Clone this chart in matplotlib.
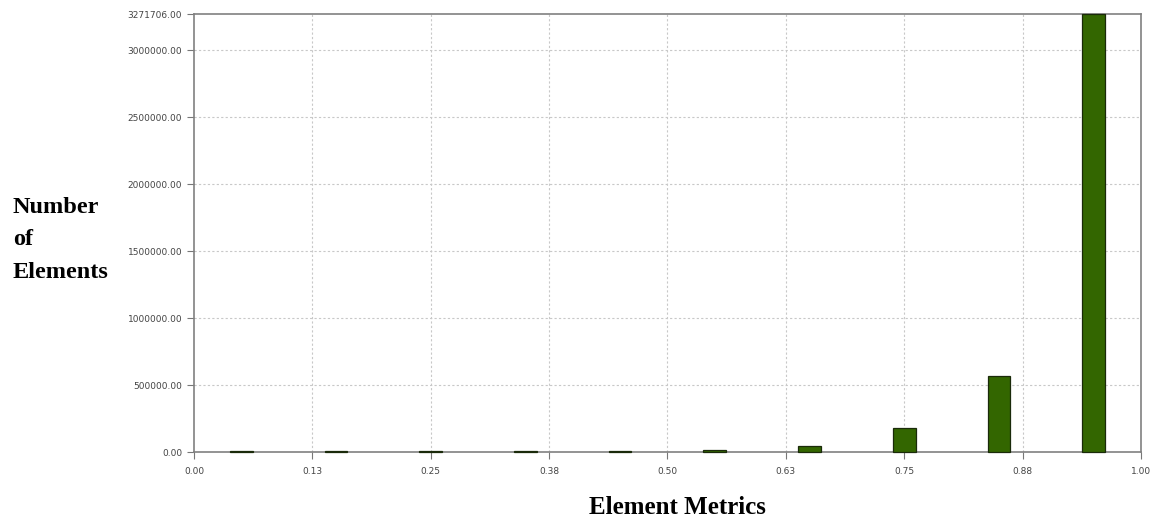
import numpy as np
import matplotlib
matplotlib.use("Agg")
import matplotlib.pyplot as plt

# histogram of element quality metric (10 bins of 0.1)
bin_centers = [0.05, 0.15, 0.25, 0.35, 0.45, 0.55, 0.65, 0.75, 0.85, 0.95]
counts = [6000, 6000, 6000, 6000, 6000, 12000, 45000, 178000, 570000, 3271706]

x_ticks = [0.0, 0.125, 0.25, 0.375, 0.5, 0.625, 0.75, 0.875, 1.0]
x_tick_labels = ["0.00", "0.13", "0.25", "0.38", "0.50", "0.63", "0.75", "0.88", "1.00"]
y_ticks = [0, 500000, 1000000, 1500000, 2000000, 2500000, 3000000, 3271706]

fig = plt.figure(figsize=(11.6, 5.17), dpi=100)
ax = fig.add_axes([0.1672, 0.1257, 0.8164, 0.8472])

ax.bar(bin_centers, counts, width=0.024, color="#336600", edgecolor="#1a2a0a",
       linewidth=0.9, zorder=3, clip_on=False)

ax.set_xlim(0, 1)
ax.set_ylim(0, max(counts))
ax.set_xticks(x_ticks)
ax.set_xticklabels(x_tick_labels)
ax.set_yticks(y_ticks)
ax.set_yticklabels([f"{v:.2f}" for v in y_ticks])
ax.tick_params(axis="both", labelsize=6.5, colors="#777777", labelcolor="#444444",
               length=5, width=0.8)
ax.tick_params(axis="x", pad=6)

# dotted grid, skipping the top edge and the axes edges
for v in y_ticks[1:-1]:
    ax.axhline(v, color="#c8c8c8", linestyle=(0, (2, 2)), linewidth=0.8, zorder=1)
for v in x_ticks[1:-1]:
    ax.axvline(v, color="#c8c8c8", linestyle=(0, (2, 2)), linewidth=0.8, zorder=1)

for s in ax.spines.values():
    s.set_color("#808080")
    s.set_linewidth(1.2)
    s.set_zorder(2)

fig.text(0.5836, 0.019, "Element Metrics", fontfamily="Liberation Serif",
         fontweight="bold", fontsize=18, ha="center", va="center")
fig.text(0.011, 0.536, "Number\nof\nElements", fontfamily="Liberation Serif",
         fontweight="bold", fontsize=17.5, ha="left", va="center", linespacing=1.72)

fig.savefig("out.png", dpi=100)
